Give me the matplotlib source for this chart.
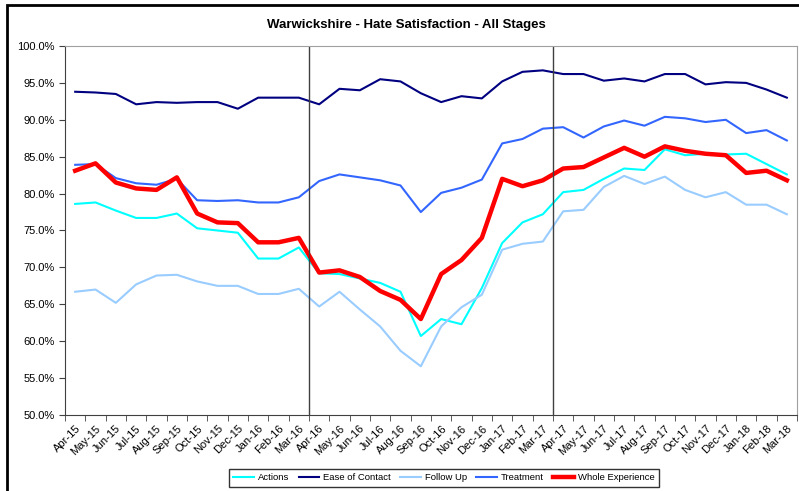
import matplotlib.pyplot as plt
from matplotlib.patches import Rectangle
from matplotlib.ticker import FuncFormatter
import numpy as np

plt.rcParams['font.family'] = ['Liberation Sans', 'DejaVu Sans']

months = ['Apr-15', 'May-15', 'Jun-15', 'Jul-15', 'Aug-15', 'Sep-15', 'Oct-15', 'Nov-15', 'Dec-15',
          'Jan-16', 'Feb-16', 'Mar-16', 'Apr-16', 'May-16', 'Jun-16', 'Jul-16', 'Aug-16', 'Sep-16',
          'Oct-16', 'Nov-16', 'Dec-16', 'Jan-17', 'Feb-17', 'Mar-17', 'Apr-17', 'May-17', 'Jun-17',
          'Jul-17', 'Aug-17', 'Sep-17', 'Oct-17', 'Nov-17', 'Dec-17', 'Jan-18', 'Feb-18', 'Mar-18']

actions = [78.6, 78.8, 77.7, 76.7, 76.7, 77.3, 75.3, 75.0, 74.7, 71.2, 71.2, 72.7,
           69.2, 69.1, 68.5, 67.9, 66.7, 60.7, 63.0, 62.3, 67.2, 73.3, 76.1, 77.2,
           80.2, 80.5, 82.0, 83.4, 83.2, 86.0, 85.2, 85.4, 85.3, 85.4, 84.0, 82.6]
ease = [93.8, 93.7, 93.5, 92.1, 92.4, 92.3, 92.4, 92.4, 91.5, 93.0, 93.0, 93.0,
        92.1, 94.2, 94.0, 95.5, 95.2, 93.6, 92.4, 93.2, 92.9, 95.2, 96.5, 96.7,
        96.2, 96.2, 95.3, 95.6, 95.2, 96.2, 96.2, 94.8, 95.1, 95.0, 94.1, 93.0]
follow_up = [66.7, 67.0, 65.2, 67.7, 68.9, 69.0, 68.1, 67.5, 67.5, 66.4, 66.4, 67.1,
             64.7, 66.7, 64.3, 62.0, 58.7, 56.6, 62.0, 64.6, 66.3, 72.4, 73.2, 73.5,
             77.6, 77.8, 80.9, 82.4, 81.3, 82.3, 80.5, 79.5, 80.2, 78.5, 78.5, 77.2]
treatment = [83.9, 84.0, 82.1, 81.4, 81.2, 82.0, 79.1, 79.0, 79.1, 78.8, 78.8, 79.5,
             81.7, 82.6, 82.2, 81.8, 81.1, 77.5, 80.1, 80.8, 81.9, 86.8, 87.4, 88.8,
             89.0, 87.6, 89.1, 89.9, 89.2, 90.4, 90.2, 89.7, 90.0, 88.2, 88.6, 87.2]
whole = [83.1, 84.1, 81.5, 80.7, 80.5, 82.2, 77.3, 76.1, 76.0, 73.4, 73.4, 74.0,
         69.3, 69.6, 68.7, 66.8, 65.6, 63.0, 69.1, 71.0, 74.0, 82.0, 81.0, 81.8,
         83.4, 83.6, 84.9, 86.2, 85.0, 86.4, 85.8, 85.4, 85.2, 82.8, 83.1, 81.8]

year_breaks = [11.5, 23.5]

fig = plt.figure(figsize=(7.99, 4.91), dpi=100)
ax = fig.add_axes([65/799, 1-415/491, 732/799, 369/491])

x = np.arange(len(months))
ax.plot(x, actions, color='#00FFFF', lw=1.5, label='Actions')
ax.plot(x, ease, color='#000080', lw=1.5, label='Ease of Contact')
ax.plot(x, follow_up, color='#99CCFF', lw=1.5, label='Follow Up')
ax.plot(x, treatment, color='#3366FF', lw=1.5, label='Treatment')
ax.plot(x, whole, color='#FF0000', lw=3.2, label='Whole Experience')

for b in year_breaks:
    ax.axvline(b, color='#404040', lw=1)

ax.set_xlim(-0.5, len(months) - 0.5)
ax.set_ylim(50, 100)
ax.set_yticks(np.arange(50, 100.1, 5))
ax.yaxis.set_major_formatter(FuncFormatter(lambda v, p: '%.1f%%' % v))

ax.set_xticks(x)
ax.set_xticklabels(months, rotation=45, ha='right', rotation_mode='anchor')
ax.set_xticks(np.arange(-0.5, len(months), 1), minor=True)
ax.tick_params(axis='x', which='major', length=0, pad=6, labelsize=8)
ax.tick_params(axis='x', which='minor', length=4, direction='out', color='#404040')
ax.tick_params(axis='y', length=4, direction='out', labelsize=8, color='#404040')

for s in ['top', 'right']:
    ax.spines[s].set_color('#a0a0a0')
for s in ['left', 'bottom']:
    ax.spines[s].set_color('#404040')

fig.text(406/799, 1-25/491, 'Warwickshire - Hate Satisfaction - All Stages',
         ha='center', va='center', fontsize=9.5, fontweight='bold')

leg = fig.legend(loc='center', bbox_to_anchor=(444/799, 1-478/491), ncol=5, fontsize=6.8,
                 frameon=True, fancybox=False, edgecolor='black', handlelength=2.2,
                 handletextpad=0.4, columnspacing=1.0, borderpad=0.45)
leg.get_frame().set_linewidth(1)

fig.patches.append(Rectangle((7/799, -0.1), 1.2, 1.1 - 5/491, transform=fig.transFigure,
                             fill=False, edgecolor='black', lw=2))

fig.savefig('out.png', dpi=100)
